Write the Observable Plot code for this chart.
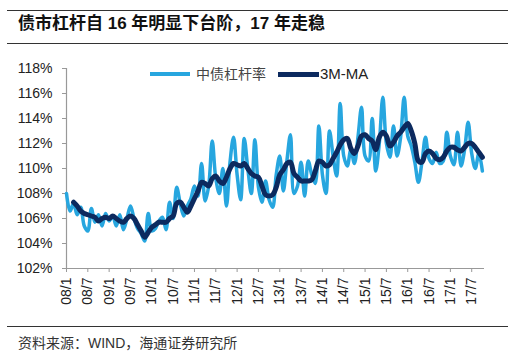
<!DOCTYPE html>
<html><head><meta charset="utf-8">
<script src="https://cdn.jsdelivr.net/npm/d3@7"></script>
<script src="https://cdn.jsdelivr.net/npm/@observablehq/plot@0.6"></script>
<style>
body{margin:0;background:#fff;}
#wrap{position:relative;width:532px;height:356px;overflow:hidden;background:#fff;font-family:"Liberation Sans","Noto Sans CJK SC",sans-serif;color:#222;}
#title{position:absolute;left:18px;top:14px;font-size:17px;font-weight:bold;color:#111;line-height:20px;white-space:nowrap;}
.hr{position:absolute;left:7px;width:501px;height:0;border-top:1px solid #333;}
#chart{position:absolute;left:0;top:45px;}
.lg{position:absolute;}
#source{position:absolute;left:18px;top:334px;font-size:14px;color:#333;line-height:18px;white-space:nowrap;}
</style>
</head><body>
<div id="wrap">
  <div class="hr" style="top:10px"></div>
  <div id="title">债市杠杆自 16 年明显下台阶，17 年走稳</div>
  <div class="hr" style="top:43px"></div>
  <div id="chart"></div>
  <div class="lg" style="left:150px;top:72px;width:40px;height:4px;background:#27A6DF"></div>
  <div class="lg" style="left:196px;top:65px;font-size:14px;line-height:18px;color:#444">中债杠杆率</div>
  <div class="lg" style="left:278px;top:71.5px;width:41px;height:5px;background:#0C2A5F"></div>
  <div class="lg" style="left:320px;top:65px;font-size:15px;line-height:18px;color:#222">3M-MA</div>
  <div class="hr" style="top:326px"></div>
  <div id="source">资料来源：WIND，海通证券研究所</div>
</div>
<script>
// Monthly series, 2008/1 .. 2017/10 (index 0 = 2008/1)
const leverage = [
  108.0,106.6,107.2,106.3,106.9,105.4,105.0,106.8,105.7,106.3,105.4,106.4, // 2008
  105.8,106.2,105.4,106.3,105.1,106.0,107.0,106.0,105.2,104.8,104.2,106.4, // 2009
  105.0,105.2,105.8,106.1,105.1,107.3,106.0,108.5,107.2,106.2,107.0,107.6, // 2010
  108.6,107.8,110.4,107.4,108.6,112.2,109.2,108.0,110.0,107.0,110.5,112.5, // 2011
  109.5,107.5,112.4,110.0,108.0,112.3,108.5,107.3,109.0,107.5,106.9,109.5, // 2012
  111.0,108.2,110.6,112.7,108.0,108.6,110.5,107.8,110.6,109.5,108.8,113.4, // 2013
  109.5,108.0,113.0,111.0,109.4,115.2,111.0,110.2,111.5,110.4,112.5,114.9, // 2014
  111.0,110.6,114.0,109.8,112.0,115.7,112.0,110.9,113.4,111.0,112.5,115.7, // 2015
  112.6,111.8,110.5,108.9,110.5,112.5,110.8,110.4,111.3,110.4,110.6,112.9, // 2016
  111.0,110.3,112.9,110.2,111.5,113.7,111.2,110.0,111.2,109.8             // 2017
];
const ma3 = [
  null,null,107.3,107.0,106.6,106.4,106.3,106.2,106.1,105.8,106.0,106.1, // 2008
  106.0,106.2,106.0,105.8,105.7,106.0,106.2,106.0,105.5,105.0,104.5,104.9, // 2009
  105.3,105.5,105.7,105.7,105.7,106.0,106.2,107.2,107.3,106.9,106.5,107.0, // 2010
  107.6,108.2,108.9,108.8,108.6,109.2,109.4,109.0,108.8,109.3,110.0,110.4, // 2011
  110.3,110.2,110.4,110.0,109.6,109.4,109.3,108.6,107.9,107.8,107.9,108.5, // 2012
  109.5,109.9,110.4,110.5,109.6,109.3,109.0,109.0,109.0,109.1,109.8,110.6, // 2013
  110.5,110.2,110.3,110.8,111.3,111.9,112.3,112.4,111.6,111.2,111.8,112.6, // 2014
  112.7,112.4,112.2,111.5,112.5,112.9,112.6,111.8,112.1,112.6,112.9,113.3, // 2015
  113.6,113.0,112.0,110.6,110.5,111.2,111.4,111.2,110.8,110.7,110.9,111.4, // 2016
  111.7,111.7,111.5,111.4,111.7,112.0,112.0,111.7,111.3,110.9             // 2017
];
const tickLabels = ["08/1","08/7","09/1","09/7","10/1","10/7","11/1","11/7","12/1","12/7",
                    "13/1","13/7","14/1","14/7","15/1","15/7","16/1","16/7","17/1","17/7"];
const tickMonthIndex = [0,6,12,18,24,30,36,42,48,54,60,66,72,78,84,90,96,102,108,114];
const yTicks = [102,104,106,108,110,112,114,116,118];

const levData = leverage.map((v,i)=>({i, v}));
const maData = ma3.map((v,i)=>({i, v})).filter(d=>d.v!=null);

const chart = Plot.plot({
  width:532, height:280,
  marginLeft:66, marginRight:48, marginTop:23, marginBottom:57,
  style:{fontFamily:"Liberation Sans, Noto Sans CJK SC, sans-serif", fontSize:"14px", background:"#fff"},
  x:{type:"linear", domain:[0,117.6], axis:null},
  y:{domain:[102,118], axis:null},
  marks:[
    Plot.axisY({ticks:yTicks, tickFormat:d=>d+"%", tickSize:4, tickPadding:10, stroke:"#999", fill:"#222", fontSize:14, label:null}),
    Plot.axisX({ticks:tickMonthIndex, tickFormat:(d)=>tickLabels[tickMonthIndex.indexOf(d)], tickRotate:-90, tickSize:4, tickPadding:5, stroke:"#999", fill:"#222", fontSize:14, label:null}),
    Plot.ruleY([102],{stroke:"#999", strokeWidth:1.2}),
    Plot.ruleX([0],{stroke:"#999", strokeWidth:1.2}),
    Plot.line(levData,{x:"i", y:"v", stroke:"#27A6DF", strokeWidth:3.5, curve:"catmull-rom"}),
    Plot.line(maData,{x:"i", y:"v", stroke:"#0C2A5F", strokeWidth:5, curve:"catmull-rom"})
  ]
});
document.getElementById("chart").appendChild(chart);
</script>
</body></html>
